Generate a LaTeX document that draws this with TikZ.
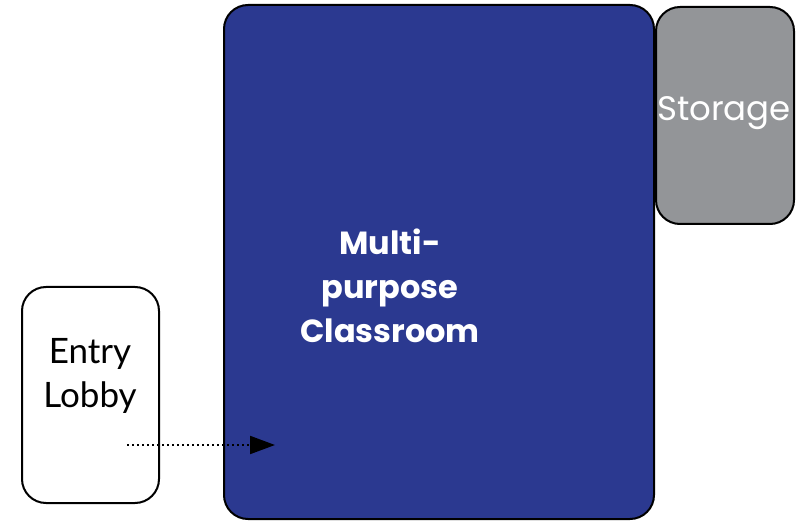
\documentclass[tikz,border=0pt]{standalone}
\usepackage{fontspec}
\setmainfont{Poppins}
\newfontfamily\lobbyfont{Lato}
\usetikzlibrary{arrows.meta}
\definecolor{roomblue}{HTML}{2B3990}
\definecolor{roomgray}{HTML}{939598}
\tikzset{
  room/.style={draw=black, line width=2pt, rounded corners=24pt, inner sep=0pt, align=center},
  roomlabel/.style={text=white},
  flowarrow/.style={line width=2pt, dash pattern=on 2pt off 3pt, -{Triangle[length=25pt,width=18pt]}}
}
\begin{document}
\begin{tikzpicture}[x=1pt,y=-1pt]
\useasboundingbox (0,0) rectangle (801,529);
\node[room, fill=roomblue, minimum width=430pt, minimum height=514pt] (classroom) at (439,262) {};
\node[room, fill=roomgray, minimum width=138pt, minimum height=217pt] (storage) at (725,115.5) {};
\node[room, fill=white, minimum width=137pt, minimum height=216pt] (lobby) at (90.5,395) {};
\node[roomlabel, font=\fontsize{32}{44}\selectfont\bfseries, align=center] (classlabel) at (390,286) {Multi-\\purpose\\Classroom};
\node[roomlabel, font=\fontsize{34}{40}\selectfont] (storagelabel) at (724,113) {Storage};
\node[font=\lobbyfont\fontsize{35}{44}\selectfont, align=center] (lobbylabel) at (90,376) {Entry\\Lobby};
\coordinate (arrowstart) at (127,445);
\coordinate (arrowend) at (275,445);
\draw[flowarrow] (arrowstart) -- (arrowend);
\end{tikzpicture}
\end{document}
